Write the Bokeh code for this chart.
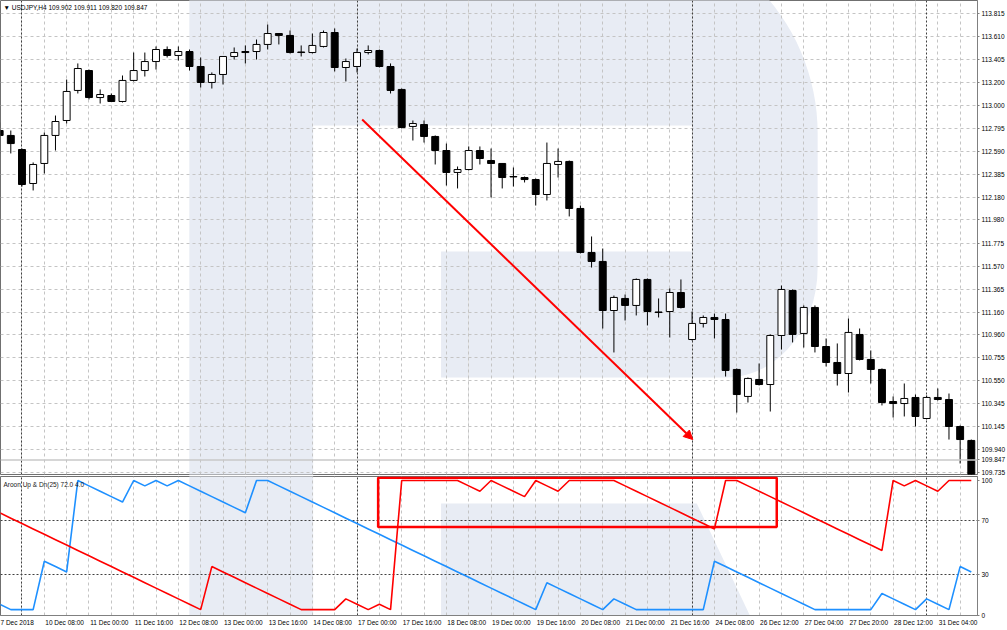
import numpy as np
from bokeh.plotting import figure
from bokeh.layouts import column
from bokeh.models import (Range1d, FixedTicker, Grid, Label, Span, Arrow, NormalHead,
                          ColumnDataSource, PrintfTickFormatter)
from bokeh.embed import file_html
from bokeh.resources import INLINE

# ---------------- data ----------------
symbol_title = "\u25bc USDJPY,H4 109.902 109.911 109.820 109.847"
aroon_title = "Aroon Up & Dn(25) 72.0 4.0"
bid_price = 109.847

bars = list(range(-2, 86))

open_ = [112.775, 112.731, 112.606, 112.304, 112.482, 112.731, 112.864, 113.131, 113.308, 113.068,
         113.086, 113.033, 113.220, 113.308, 113.388, 113.495, 113.442, 113.477, 113.344, 113.202,
         113.273, 113.433, 113.477, 113.477, 113.540, 113.637, 113.620, 113.473, 113.468, 113.522,
         113.646, 113.335, 113.344, 113.468, 113.486, 113.344, 113.140, 112.811, 112.828, 112.722,
         112.597, 112.402, 112.428, 112.597, 112.508, 112.482, 112.366, 112.357, 112.339, 112.206,
         112.473, 112.500, 112.082, 111.691, 111.611, 111.175, 111.282, 111.220, 111.451, 111.162,
         111.166, 111.335, 110.917, 111.060, 111.113, 111.095, 110.651, 110.411, 110.562, 110.517,
         110.953, 111.353, 110.971, 111.202, 110.855, 110.713, 110.615, 110.962, 110.740, 110.651,
         110.366, 110.348, 110.402, 110.215, 110.402, 110.384, 110.144, 110.020]

high = [112.846, 112.775, 112.615, 112.491, 112.757, 112.908, 113.228, 113.371, 113.317, 113.140,
        113.104, 113.264, 113.468, 113.468, 113.522, 113.522, 113.522, 113.495, 113.424, 113.291,
        113.433, 113.513, 113.531, 113.584, 113.717, 113.637, 113.664, 113.531, 113.637, 113.664,
        113.682, 113.415, 113.504, 113.531, 113.495, 113.371, 113.148, 112.864, 112.864, 112.731,
        112.659, 112.455, 112.633, 112.633, 112.615, 112.482, 112.446, 112.366, 112.348, 112.668,
        112.615, 112.508, 112.108, 111.833, 111.726, 111.308, 111.317, 111.460, 111.460, 111.282,
        111.371, 111.451, 111.166, 111.131, 111.148, 111.148, 110.660, 110.580, 110.704, 110.962,
        111.397, 111.362, 111.220, 111.220, 110.926, 110.882, 111.104, 111.015, 110.820, 110.660,
        110.411, 110.526, 110.428, 110.420, 110.482, 110.437, 110.153, 110.028]

low = [112.571, 112.571, 112.277, 112.242, 112.393, 112.597, 112.837, 113.104, 113.051, 113.015,
       113.033, 113.024, 113.211, 113.255, 113.317, 113.424, 113.397, 113.308, 113.157, 113.148,
       113.184, 113.406, 113.371, 113.406, 113.495, 113.540, 113.460, 113.433, 113.460, 113.513,
       113.300, 113.211, 113.291, 113.451, 113.335, 113.104, 112.793, 112.686, 112.668, 112.473,
       112.286, 112.260, 112.420, 112.473, 112.180, 112.260, 112.277, 112.313, 112.108, 112.153,
       112.357, 112.011, 111.682, 111.557, 111.015, 110.802, 111.086, 111.131, 111.042, 111.113,
       110.935, 111.193, 110.908, 111.024, 110.926, 110.588, 110.268, 110.357, 110.508, 110.277,
       110.828, 110.891, 110.846, 110.802, 110.677, 110.508, 110.446, 110.731, 110.526, 110.331,
       110.224, 110.233, 110.144, 110.206, 110.375, 110.028, 109.815, 109.575]

close = [112.731, 112.659, 112.295, 112.473, 112.731, 112.855, 113.122, 113.326, 113.068, 113.095,
         113.033, 113.220, 113.308, 113.388, 113.495, 113.442, 113.477, 113.344, 113.202, 113.273,
         113.433, 113.468, 113.468, 113.540, 113.637, 113.620, 113.468, 113.468, 113.531, 113.646,
         113.335, 113.388, 113.468, 113.486, 113.344, 113.131, 112.802, 112.837, 112.722, 112.597,
         112.402, 112.428, 112.597, 112.526, 112.482, 112.357, 112.362, 112.339, 112.206, 112.482,
         112.500, 112.082, 111.691, 111.611, 111.175, 111.291, 111.220, 111.451, 111.166, 111.157,
         111.335, 111.202, 111.060, 111.113, 111.095, 110.642, 110.428, 110.571, 110.517, 110.953,
         111.362, 110.962, 111.202, 110.855, 110.713, 110.615, 110.980, 110.740, 110.651, 110.357,
         110.348, 110.393, 110.233, 110.402, 110.384, 110.144, 110.028, 109.620]

aroon_up = [8, 4, 4, 4, 40, 36, 32, 100, 96, 92,
            88, 84, 100, 96, 100, 96, 100, 96, 92, 88,
            84, 80, 76, 100, 100, 96, 92, 88, 84, 80,
            76, 72, 68, 64, 60, 56, 52, 48, 44, 40,
            36, 32, 28, 24, 20, 16, 12, 8, 4, 24,
            20, 16, 12, 8, 4, 12, 8, 4, 4, 4,
            4, 4, 4, 4, 40, 36, 32, 28, 24, 20,
            16, 12, 8, 4, 4, 4, 4, 4, 4, 16,
            12, 8, 4, 12, 8, 4, 36, 32]

aroon_down = [76, 72, 68, 64, 60, 56, 52, 48, 44, 40,
              36, 32, 28, 24, 20, 16, 12, 8, 4, 36,
              32, 28, 24, 20, 16, 12, 8, 4, 4, 4,
              4, 12, 8, 4, 8, 4, 100, 100, 100, 100,
              100, 100, 96, 92, 100, 96, 92, 88, 100, 96,
              92, 100, 100, 100, 100, 100, 96, 92, 88, 84,
              80, 76, 72, 68, 64, 100, 100, 96, 92, 88,
              84, 80, 76, 72, 68, 64, 60, 56, 52, 48,
              100, 96, 100, 96, 92, 100, 100, 100]

price_ticks = [113.815, 113.610, 113.405, 113.200, 113.000, 112.795, 112.590, 112.385, 112.180,
               111.980, 111.775, 111.570, 111.365, 111.160, 110.960, 110.755, 110.550, 110.345,
               110.145, 109.940, 109.735]
aroon_ticks = [0, 30, 70, 100]
aroon_levels = [30, 70]

time_tick_bars = [-2, 2, 6, 10, 14, 18, 22, 26, 30, 34, 38, 42, 46, 50, 54, 58, 62, 66, 70, 74, 78, 82]
time_tick_labels = ["7 Dec 2018", "10 Dec 08:00", "11 Dec 00:00", "11 Dec 16:00", "12 Dec 08:00",
                    "13 Dec 00:00", "13 Dec 16:00", "14 Dec 08:00", "17 Dec 00:00", "17 Dec 16:00",
                    "18 Dec 08:00", "19 Dec 00:00", "19 Dec 16:00", "20 Dec 08:00", "21 Dec 00:00",
                    "21 Dec 16:00", "24 Dec 08:00", "26 Dec 12:00", "27 Dec 04:00", "27 Dec 20:00",
                    "28 Dec 12:00", "31 Dec 04:00"]
week_start_bars = [0, 30, 60, 81]
grid_bars = list(range(-2, 86, 2))

# hand-drawn annotations (bar index, value)
arrow_start = (30.46, 112.873)
arrow_end = (60.06, 110.028)
box_bars = (31.89, 67.58)
box_levels = (65.4, 102.0)

# ---------------- layout (pixels) ----------------
W = 1007
RIGHT = 29
H_MAIN = 476          # price frame is 474 px, 2 px gap gives the double separator
FRAME_MAIN = 474
H_LOW = 154
B_LOW = 15
BAR0_PX, BAR_PX = 21.5, 11.18
PRICE_REF, PRICE_REF_PX, PX_PER_PRICE = 113.815, 13.0, 112.5
AROON_ZERO_PX, PX_PER_AROON = 614.5, 1.345


def bx(px):
    return (px - BAR0_PX) / BAR_PX


def py(px):
    return PRICE_REF - (px - PRICE_REF_PX) / PX_PER_PRICE


def ay(px):
    return (AROON_ZERO_PX - px) / PX_PER_AROON


FONT = "Liberation Sans"
FS = "6.5px"
WM = "#e8ecf4"
GRID_C = "#c4c4c4"
SEP_C = "#404040"

x_range = Range1d(bx(0), bx(W - RIGHT))
main_y = Range1d(py(FRAME_MAIN), py(0))
low_y = Range1d(ay(H_MAIN + H_LOW - B_LOW), ay(H_MAIN))

# ---------------- main price panel ----------------
p = figure(width=W, height=H_MAIN, x_range=x_range, y_range=main_y, output_backend="svg",
           toolbar_location=None, tools="", x_axis_location=None, y_axis_location="right",
           min_border_left=0, min_border_top=0, min_border_bottom=H_MAIN - FRAME_MAIN,
           min_border_right=RIGHT)
p.outline_line_color = "#707070"
p.background_fill_color = "white"
p.border_fill_color = "white"

# watermark (decorative logo shapes, defined in pixels)
t1 = np.linspace(np.arcsin(-143 / 208), 0, 16)
arc1 = [(610 + 208 * np.cos(a), 133 + 208 * np.sin(a)) for a in t1]
t2 = np.linspace(0, np.pi / 2, 16)
arc2 = [(727 + 91 * np.cos(a), 267 + 110 * np.sin(a)) for a in t2]
bowl_px = [(313, -10)] + arc1 + arc2 + [(441, 377), (441, 251), (692, 251), (692, 125), (313, 125)]
stem_px = [(189, -10), (313, -10), (313, 640), (189, 640)]
leg_px = [(441, 503), (697, 503), (762, 640), (441, 640)]

for shape in (stem_px, bowl_px):
    p.patch([bx(a) for a, b in shape], [py(b) for a, b in shape], fill_color=WM, line_color=None,
            level="image")

p.ygrid.ticker = FixedTicker(ticks=price_ticks)
p.ygrid.grid_line_color = GRID_C
p.ygrid.grid_line_dash = "3 3"
p.add_layout(Grid(dimension=0, ticker=FixedTicker(ticks=grid_bars), grid_line_color=GRID_C,
                  grid_line_dash="3 3"))
p.add_layout(Grid(dimension=0, ticker=FixedTicker(ticks=week_start_bars), grid_line_color=SEP_C,
                  grid_line_dash="2 2"))

yax = p.yaxis[0]
yax.ticker = FixedTicker(ticks=price_ticks + [bid_price])
yax.formatter = PrintfTickFormatter(format="%.3f")
yax.major_label_text_font = FONT
yax.major_label_text_font_size = FS
yax.major_label_text_color = "black"
yax.axis_line_color = "#808080"
yax.major_tick_line_color = "#808080"
yax.major_tick_out = 2
yax.major_tick_in = 0
yax.minor_tick_line_color = None
yax.major_label_standoff = 2

p.add_layout(Span(location=bid_price, dimension="width", line_color="#c8c8c8", line_width=1.5))

o = np.array(open_)
c = np.array(close)
src = ColumnDataSource(dict(
    x=bars, h=high, l=low,
    top=np.maximum(o, c), bottom=np.minimum(o, c),
    fill=["white" if cc > oo else "black" for oo, cc in zip(open_, close)],
))
p.segment(x0="x", y0="h", x1="x", y1="l", source=src, line_color="black", line_width=1)
p.vbar(x="x", width=0.62, top="top", bottom="bottom", source=src, fill_color="fill",
       line_color="black", line_width=1)

p.add_layout(Arrow(end=NormalHead(size=9, fill_color="red", line_color="red"),
                   x_start=arrow_start[0], y_start=arrow_start[1],
                   x_end=arrow_end[0], y_end=arrow_end[1],
                   line_color="red", line_width=2))

p.add_layout(Label(x=bx(3), y=py(7), text=symbol_title, text_font=FONT, text_font_size=FS,
                   text_color="black", text_baseline="middle", text_align="left"))

# ---------------- Aroon panel ----------------
p2 = figure(width=W, height=H_LOW, x_range=x_range, y_range=low_y, output_backend="svg",
            toolbar_location=None, tools="", x_axis_location="below", y_axis_location="right",
            min_border_left=0, min_border_top=0, min_border_bottom=B_LOW, min_border_right=RIGHT)
p2.outline_line_color = "#707070"
p2.background_fill_color = "white"
p2.border_fill_color = "white"

for shape in (stem_px, leg_px):
    p2.patch([bx(a) for a, b in shape], [ay(b) for a, b in shape], fill_color=WM, line_color=None,
             level="image")

p2.xgrid.visible = False
p2.ygrid.visible = False
p2.add_layout(Grid(dimension=0, ticker=FixedTicker(ticks=grid_bars), grid_line_color=GRID_C,
                   grid_line_dash="3 3"))
p2.add_layout(Grid(dimension=0, ticker=FixedTicker(ticks=week_start_bars), grid_line_color=SEP_C,
                   grid_line_dash="2 2"))
p2.add_layout(Grid(dimension=1, ticker=FixedTicker(ticks=aroon_levels), grid_line_color=SEP_C,
                   grid_line_dash="2 2"))

y2 = p2.yaxis[0]
y2.ticker = FixedTicker(ticks=aroon_ticks)
y2.major_label_text_font = FONT
y2.major_label_text_font_size = FS
y2.major_label_text_color = "black"
y2.axis_line_color = "#808080"
y2.major_tick_line_color = "#808080"
y2.major_tick_out = 2
y2.major_tick_in = 0
y2.minor_tick_line_color = None
y2.major_label_standoff = 2

# bottom time axis: labels start at their bar (left aligned like the terminal)
label_pos = [round(b + (1 + len(t) * 3.22 / 2) / BAR_PX, 4) for b, t in zip(time_tick_bars, time_tick_labels)]
x2 = p2.xaxis[0]
x2.ticker = FixedTicker(ticks=label_pos)
x2.major_label_overrides = {pos: t for pos, t in zip(label_pos, time_tick_labels)}
x2.major_label_text_font = FONT
x2.major_label_text_font_size = FS
x2.major_label_text_color = "black"
x2.axis_line_color = "#808080"
x2.major_tick_line_color = None
x2.major_tick_out = 0
x2.major_tick_in = 0
x2.minor_tick_line_color = None
x2.major_label_standoff = 3

p2.line(bars, aroon_up, line_color="#1e90ff", line_width=1.6)
p2.line(bars, aroon_down, line_color="#ff0000", line_width=1.6)
p2.quad(left=box_bars[0], right=box_bars[1], bottom=box_levels[0], top=box_levels[1],
        fill_color=None, line_color="#ff0000", line_width=2.5)

p2.add_layout(Label(x=bx(3), y=ay(484), text=aroon_title, text_font=FONT, text_font_size=FS,
                    text_color="#202020", text_baseline="middle", text_align="left"))

layout = column(p, p2, spacing=0)
open("out.html", "w").write(file_html(layout, INLINE))
